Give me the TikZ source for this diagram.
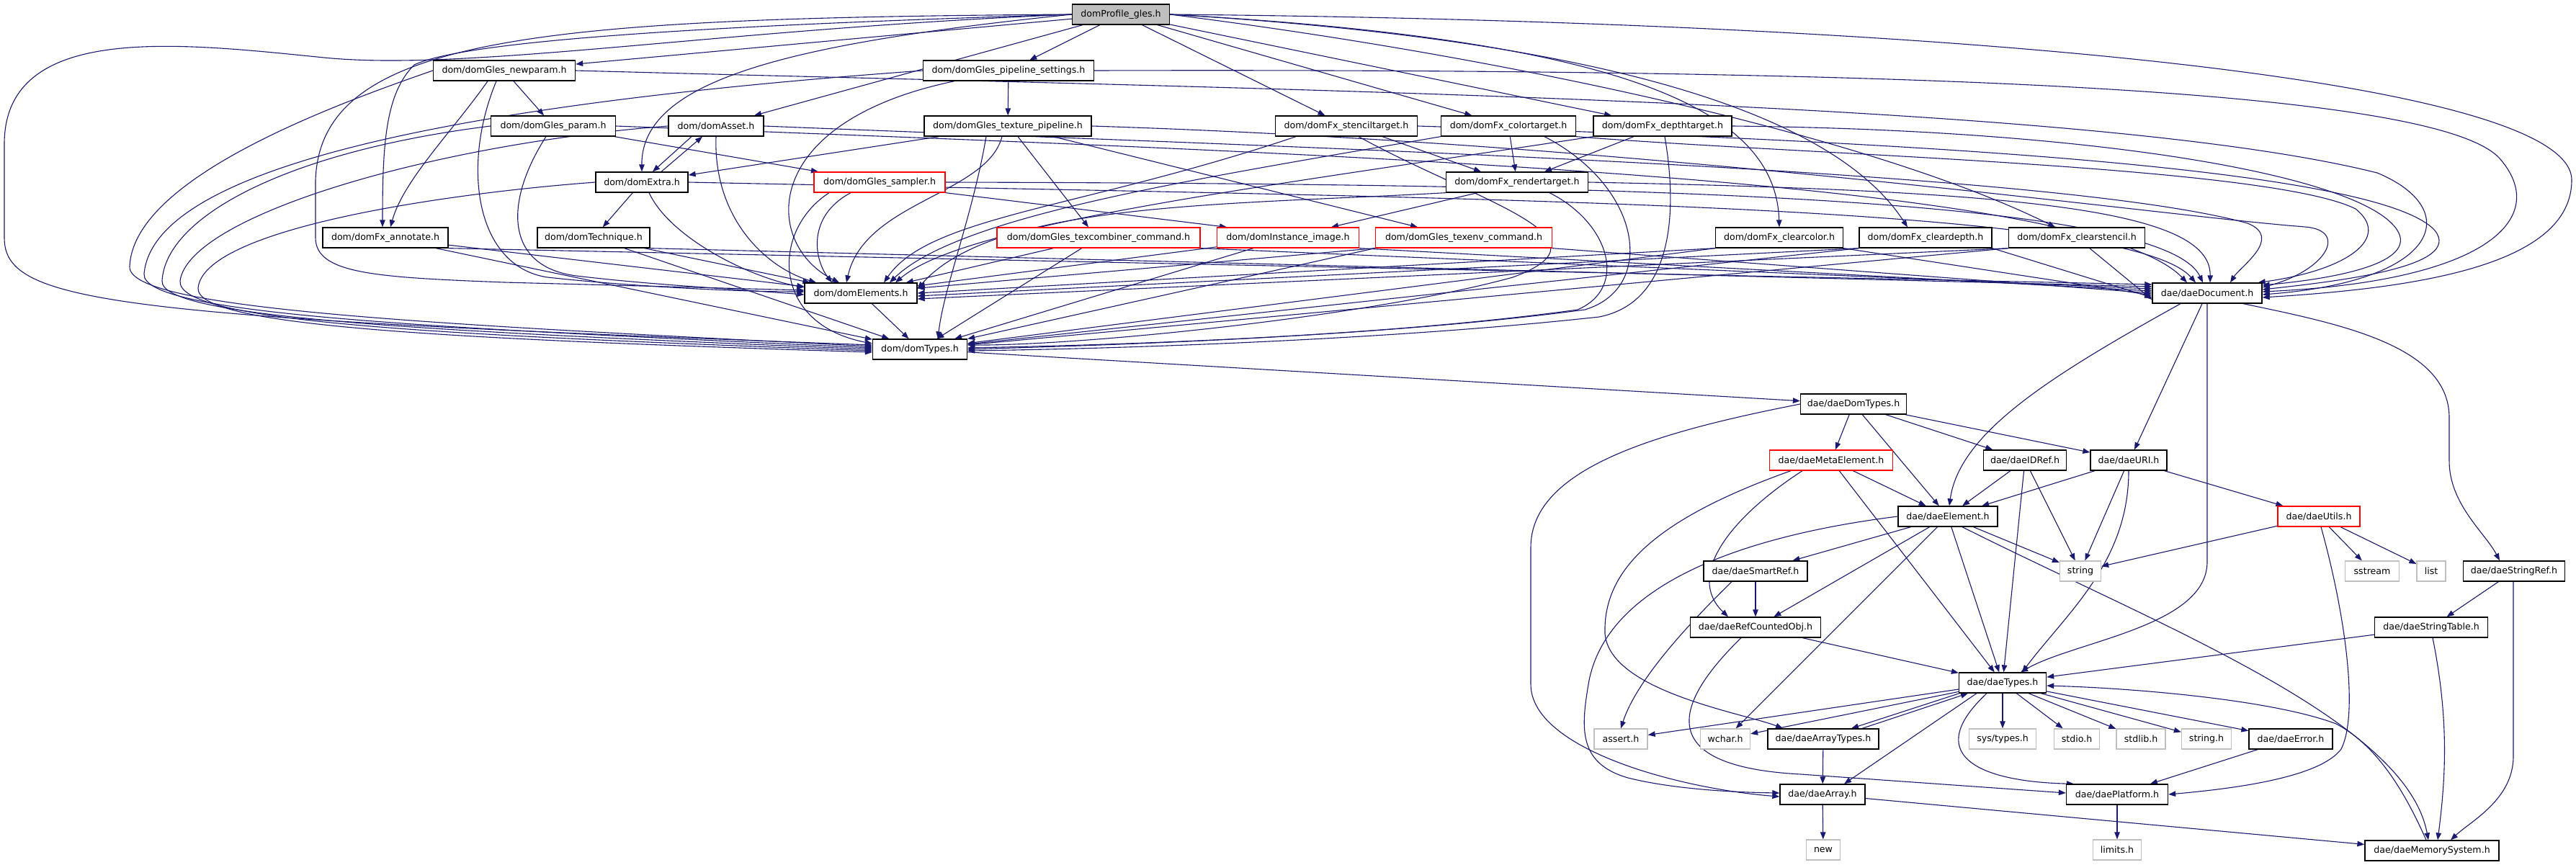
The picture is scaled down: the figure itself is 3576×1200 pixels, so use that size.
\documentclass[tikz,border=0pt]{standalone}
\usepackage{fontspec}
\newfontfamily\dvfont{DejaVu Sans}
\usetikzlibrary{arrows.meta,backgrounds}
\definecolor{edgec}{HTML}{191970}
\definecolor{sysgray}{HTML}{BFBFBF}
\tikzset{
  nd/.style={draw=black, line width=1.3pt, fill=white, minimum height=28pt, inner xsep=3pt, inner ysep=0pt, font=\dvfont\fontsize{12.6}{15}\selectfont},
  rednd/.style={nd, draw=red},
  sysnd/.style={nd, draw=sysgray},
  rootnd/.style={nd, fill=sysgray},
  ed/.style={draw=edgec, line width=1.1pt, -{Triangle[length=10pt,width=7.5pt]}},
}
\begin{document}
\begin{tikzpicture}[x=1pt,y=-1pt]
\useasboundingbox (0,0) rectangle (3576,1200);
% ---------------- nodes ----------------
\node[rootnd, minimum width=135pt] (R) at (1556,20) {domProfile\_gles.h};
\node[nd, minimum width=197pt] (NP) at (700,98) {dom/domGles\_newparam.h};
\node[nd, minimum width=237pt] (PS) at (1400,98) {dom/domGles\_pipeline\_settings.h};
\node[nd, minimum width=173pt] (GP) at (768,175) {dom/domGles\_param.h};
\node[nd, minimum width=132pt] (AS) at (994,175) {dom/domAsset.h};
\node[nd, minimum width=232pt] (TP) at (1399,175) {dom/domGles\_texture\_pipeline.h};
\node[nd, minimum width=197pt] (ST) at (1869,175) {dom/domFx\_stenciltarget.h};
\node[nd, minimum width=187pt] (CT) at (2094,175) {dom/domFx\_colortarget.h};
\node[nd, minimum width=192pt] (DT) at (2308,175) {dom/domFx\_depthtarget.h};
\node[nd, minimum width=128pt] (EX) at (891,253) {dom/domExtra.h};
\node[rednd, minimum width=182pt] (SA) at (1221,253) {dom/domGles\_sampler.h};
\node[nd, minimum width=197pt] (RT) at (2106,253) {dom/domFx\_rendertarget.h};
\node[nd, minimum width=174pt] (AN) at (535,330) {dom/domFx\_annotate.h};
\node[nd, minimum width=156pt] (TE) at (824,330) {dom/domTechnique.h};
\node[rednd, minimum width=282pt] (TC) at (1525,330) {dom/domGles\_texcombiner\_command.h};
\node[rednd, minimum width=197pt] (II) at (1788,330) {dom/domInstance\_image.h};
\node[rednd, minimum width=245pt] (TV) at (2032,330) {dom/domGles\_texenv\_command.h};
\node[nd, minimum width=177pt] (CC) at (2470,330) {dom/domFx\_clearcolor.h};
\node[nd, minimum width=184pt] (CD) at (2673,330) {dom/domFx\_cleardepth.h};
\node[nd, minimum width=189pt] (CS) at (2883,330) {dom/domFx\_clearstencil.h};
\node[nd, minimum width=156pt] (EL) at (1195,407) {dom/domElements.h};
\node[nd, minimum width=152pt] (DD) at (3064,407) {dae/daeDocument.h};
\node[nd, minimum width=131pt] (TY) at (1277,485) {dom/domTypes.h};
\node[nd, minimum width=147pt] (DOM) at (2573,561) {dae/daeDomTypes.h};
\node[rednd, minimum width=171pt] (ME) at (2542,639) {dae/daeMetaElement.h};
\node[nd, minimum width=115pt] (IDR) at (2811,639) {dae/daeIDRef.h};
\node[nd, minimum width=106pt] (URI) at (2955,639) {dae/daeURI.h};
\node[nd, minimum width=138pt] (E) at (2704,717) {dae/daeElement.h};
\node[rednd, minimum width=114pt] (U) at (3219,717) {dae/daeUtils.h};
\node[nd, minimum width=144pt] (SR) at (2437,793) {dae/daeSmartRef.h};
\node[sysnd, minimum width=57pt] (STR) at (2888,793) {string};
\node[sysnd, minimum width=75pt] (SS) at (3293,793) {sstream};
\node[sysnd, minimum width=40pt] (LI) at (3375,793) {list};
\node[nd, minimum width=141pt] (SREF) at (3490,793) {dae/daeStringRef.h};
\node[nd, minimum width=181pt] (RC) at (2437,871) {dae/daeRefCountedObj.h};
\node[nd, minimum width=157pt] (STT) at (3375,871) {dae/daeStringTable.h};
\node[nd, minimum width=121pt] (T) at (2780,948) {dae/daeTypes.h};
\node[sysnd, minimum width=74pt] (AT) at (2250,1026) {assert.h};
\node[sysnd, minimum width=69pt] (WC) at (2395,1026) {wchar.h};
\node[nd, minimum width=154pt] (ATY) at (2531,1026) {dae/daeArrayTypes.h};
\node[sysnd, minimum width=93pt] (SYS) at (2780,1026) {sys/types.h};
\node[sysnd, minimum width=63pt] (SIO) at (2883,1026) {stdio.h};
\node[sysnd, minimum width=68pt] (SLIB) at (2972,1026) {stdlib.h};
\node[sysnd, minimum width=69pt] (SH) at (3063,1026) {string.h};
\node[nd, minimum width=116pt] (ER) at (3180,1026) {dae/daeError.h};
\node[nd, minimum width=118pt] (A) at (2530,1103) {dae/daeArray.h};
\node[nd, minimum width=141pt] (P) at (2939,1103) {dae/daePlatform.h};
\node[sysnd, minimum width=47pt] (NEW) at (2531,1180) {new};
\node[sysnd, minimum width=67pt] (LIM) at (2939,1180) {limits.h};
\node[nd, minimum width=186pt] (MS) at (3376,1181) {dae/daeMemorySystem.h};
% ---------------- edges ----------------
\begin{scope}[on background layer]
\fill[white] (0,0) rectangle (3576,1200);
% root
\draw[ed] (R) -- (NP);
\draw[ed] (R) -- (PS);
\draw[ed] (R) -- (AS);
\draw[ed] (R) -- (ST);
\draw[ed] (R) -- (CT);
\draw[ed] (R) -- (DT);
\draw[ed] (R.east) .. controls (2250,55) and (2465,150) .. (CC.north);
\draw[ed] (R.east) .. controls (2300,60) and (2560,180) .. ([xshift=-25pt]CD.north);
\draw[ed] (R.east) .. controls (2100,80) and (2600,190) .. ([xshift=-30pt]CS.north);
\draw[ed] (R.west) .. controls (1100,60) and (890,110) .. (EX.north);
\draw[ed] (R.west) .. controls (1000,35) and (650,55) .. (575,90) .. controls (535,130) and (531,200) .. ([xshift=-4pt]AN.north);
\draw[ed] (R.west) .. controls (750,25) and (445,50) .. (438,250) -- (438,330) .. controls (438,380) and (520,385) .. (700,392) -- ([yshift=4pt]EL.west);
\draw[ed] (R.west) .. controls (1000,40) and (650,100) .. (450,80) .. controls (250,60) and (6,30) .. (6,200) -- (6,330) .. controls (6,420) and (150,440) .. ([yshift=6pt]TY.west);
\draw[ed] (R.east) .. controls (2700,30) and (3570,110) .. (3570,250) .. controls (3570,370) and (3350,400) .. ([yshift=-6pt]DD.east);
% newparam
\draw[ed] (NP) -- (GP);
\draw[ed] ([xshift=-23pt]NP.south) .. controls (630,180) and (560,250) .. ([xshift=7pt]AN.north);
\draw[ed] ([xshift=-11pt]NP.south) .. controls (640,230) and (660,370) .. (760,385) .. controls (850,395) and (1000,405) .. ([yshift=2pt]EL.west);
\draw[ed] (NP.west) .. controls (450,150) and (185,250) .. (180,370) .. controls (177,430) and (600,450) .. ([yshift=4pt]TY.west);
\draw[ed] (NP.east) .. controls (1800,125) and (2900,140) .. (3300,240) .. controls (3420,290) and (3390,390) .. ([yshift=-2pt]DD.east);
% pipeline settings
\draw[ed] (PS) -- (TP);
\draw[ed] ([xshift=-75pt]PS.south) .. controls (1050,170) and (1060,340) .. ([xshift=-30pt]EL.north);
\draw[ed] (PS.west) .. controls (700,140) and (215,220) .. (200,380) .. controls (195,437) and (600,455) .. ([yshift=2pt]TY.west);
\draw[ed] (PS.east) .. controls (2600,95) and (3380,120) .. (3470,220) .. controls (3540,300) and (3460,390) .. ([yshift=2pt]DD.east);
% gles param
\draw[ed] (GP) -- (SA);
\draw[ed] ([xshift=-10pt]GP.south) .. controls (700,280) and (700,370) .. (800,383) .. controls (900,395) and (1000,400) .. ([yshift=-2pt]EL.west);
\draw[ed] (GP.west) .. controls (400,210) and (230,300) .. (225,390) .. controls (222,442) and (600,460) .. (TY.west);
\draw[ed] (GP.east) .. controls (1900,215) and (2900,250) .. ([xshift=-28pt]DD.north);
% asset
\draw[ed] ([xshift=-34pt]AS.south) -- ([xshift=15pt]EX.north);
\draw[ed] ([xshift=27pt]EX.north) -- ([xshift=-19pt]AS.south);
\draw[ed] (AS.south) .. controls (990,300) and (1060,370) .. ([xshift=-62pt]EL.north);
\draw[ed] (AS.west) .. controls (600,200) and (262,300) .. (250,390) .. controls (245,447) and (600,465) .. ([yshift=-2pt]TY.west);
\draw[ed] (AS.east) .. controls (1800,205) and (2850,235) .. (3120,310) .. controls (3170,330) and (3110,370) .. ([xshift=32pt]DD.north);
% texture pipeline
\draw[ed] (TP) -- (EX);
\draw[ed] ([xshift=-8pt]TP.south) .. controls (1370,270) and (1200,280) .. ([xshift=-20pt]EL.north);
\draw[ed] ([xshift=14pt]TP.south) -- ([xshift=-14pt]TC.north);
\draw[ed] ([xshift=63pt]TP.south) -- ([xshift=-64pt]TV.north);
\draw[ed] ([xshift=-30pt]TP.south) .. controls (1350,300) and (1310,400) .. ([xshift=25pt]TY.north);
\draw[ed] (TP.east) .. controls (2300,200) and (3000,300) .. (3200,315) .. controls (3260,320) and (3230,375) .. ([yshift=8pt]DD.east);
% stenciltarget
\draw[ed] ([xshift=50pt]ST.south) -- ([xshift=-50pt]RT.north);
\draw[ed] ([xshift=-70pt]ST.south) .. controls (1500,290) and (1290,300) .. ([xshift=32pt]EL.north);
\draw[ed] ([xshift=17pt]ST.south) .. controls (2050,280) and (2250,330) .. (2100,385) .. controls (1900,440) and (1500,480) .. ([yshift=6pt]TY.east);
\draw[ed] (ST.east) .. controls (2600,195) and (3300,230) .. (3380,320) .. controls (3420,370) and (3250,390) .. ([yshift=5pt]DD.east);
% colortarget
\draw[ed] (CT) -- (RT);
\draw[ed] (CT.south west) .. controls (1650,250) and (1330,300) .. ([xshift=40pt]EL.north);
\draw[ed] ([xshift=50pt]CT.south) .. controls (2280,260) and (2300,400) .. (2200,430) .. controls (1900,470) and (1500,480) .. ([yshift=2pt]TY.east);
\draw[ed] (CT.south east) .. controls (2500,215) and (3150,230) .. (3270,290) .. controls (3320,330) and (3260,375) .. ([xshift=-6pt]DD.north east);
% depthtarget
\draw[ed] ([xshift=-40pt]DT.south) -- ([xshift=38pt]RT.north);
\draw[ed] (DT.south west) .. controls (1750,260) and (1340,310) .. ([xshift=48pt]EL.north);
\draw[ed] ([xshift=3pt]DT.south) .. controls (2330,300) and (2320,420) .. (2220,440) .. controls (1900,475) and (1500,485) .. ([yshift=-2pt]TY.east);
\draw[ed] (DT.east) .. controls (2900,180) and (3250,240) .. (3320,310) .. controls (3370,360) and (3260,385) .. ([yshift=11pt]DD.east);
% extra
\draw[ed] (EX) -- (TE);
\draw[ed] ([xshift=10pt]EX.south) .. controls (930,330) and (1040,385) .. ([yshift=8pt]EL.west);
\draw[ed] (EX.west) .. controls (600,270) and (282,320) .. (275,400) .. controls (272,452) and (600,470) .. ([yshift=-4pt]TY.west);
\draw[ed] (EX.east) .. controls (2000,275) and (2950,280) .. ([xshift=-16pt]DD.north);
% sampler
\draw[ed] (SA.south east) -- ([xshift=-85pt]II.north);
\draw[ed] ([xshift=-40pt]SA.south) .. controls (1120,300) and (1130,360) .. ([xshift=-40pt]EL.north);
\draw[ed] ([xshift=-70pt]SA.south) .. controls (1070,320) and (1070,450) .. ([yshift=8pt]TY.west);
\draw[ed] (SA.east) .. controls (2200,255) and (3000,270) .. ([xshift=-6pt]DD.north);
% rendertarget
\draw[ed] ([xshift=-55pt]RT.south) -- ([xshift=60pt]II.north);
\draw[ed] (RT.south west) .. controls (1700,285) and (1380,280) .. ([yshift=6pt]EL.east);
\draw[ed] ([xshift=45pt]RT.south) .. controls (2235,310) and (2260,400) .. (2190,430) .. controls (1900,470) and (1500,480) .. (TY.east);
\draw[ed] (RT.east) .. controls (2800,265) and (3070,290) .. ([xshift=4pt]DD.north);
% annotate, technique
\draw[ed] (AN) -- (EL);
\draw[ed] (AN) -- (TY);
\draw[ed] (AN.south east) -- ([yshift=12pt]DD.west);
\draw[ed] (TE) -- (EL);
\draw[ed] (TE) -- (TY);
\draw[ed] (TE.south east) -- ([yshift=9pt]DD.west);
% row 330 red nodes
\draw[ed] (TC) -- (EL);
\draw[ed] (TC) -- (TY);
\draw[ed] (TC.south east) -- ([yshift=6pt]DD.west);
\draw[ed] (II) -- (EL);
\draw[ed] (II) -- (TY);
\draw[ed] (II.south east) -- ([yshift=3pt]DD.west);
\draw[ed] (TV.south west) -- (EL);
\draw[ed] (TV.south west) -- (TY);
\draw[ed] (TV.south east) -- (DD.west);
% clear*
\draw[ed] (CC.south west) -- (EL.east);
\draw[ed] (CC.south west) -- (TY);
\draw[ed] (CC.south east) -- ([yshift=-3pt]DD.west);
\draw[ed] (CD.south west) -- ([yshift=-4pt]EL.east);
\draw[ed] (CD.south west) -- (TY);
\draw[ed] (CD.south east) -- ([yshift=-6pt]DD.west);
\draw[ed] (CS.south west) -- ([yshift=-8pt]EL.east);
\draw[ed] (CS.south west) -- (TY);
\draw[ed] (CS) -- ([yshift=-9pt]DD.west);
% elements
\draw[ed] (EL) -- (TY);
% lower part
\draw[ed] (TY) -- (DOM);
\draw[ed] (DOM) -- (ME);
\draw[ed] (DOM) -- (E);
\draw[ed] (DOM) -- (IDR);
\draw[ed] (DOM) -- (URI);
\draw[ed] (DOM.west) .. controls (2300,600) and (2125,650) .. (2125,760) -- (2125,950) .. controls (2125,1040) and (2330,1095) .. ([yshift=-3pt]A.west);
\draw[ed] (ME) -- (E);
\draw[ed] ([xshift=-40pt]ME.south) .. controls (2400,720) and (2340,800) .. ([xshift=-38pt]RC.north);
\draw[ed] ([xshift=-56pt]ME.south) .. controls (2300,720) and (2225,790) .. (2228,880) .. controls (2235,960) and (2420,990) .. ([xshift=-56pt]ATY.north);
\draw[ed] (ME) -- (T);
\draw[ed] (IDR) -- (E);
\draw[ed] (IDR) -- (STR);
\draw[ed] (IDR) -- (T);
\draw[ed] (URI) -- (E);
\draw[ed] (URI) -- (STR);
\draw[ed] (URI.south) .. controls (2955,780) and (2870,850) .. ([xshift=27pt]T.north);
\draw[ed] (URI) -- (U);
\draw[ed] ([xshift=-37pt]DD.south) .. controls (2850,520) and (2720,600) .. ([xshift=2pt]E.north);
\draw[ed] ([xshift=-7pt]DD.south) -- ([xshift=8pt]URI.north);
\draw[ed] (DD.south) -- (3064,780) .. controls (3064,870) and (2880,890) .. ([xshift=25pt]T.north);
\draw[ed] ([xshift=50pt]DD.south) .. controls (3250,450) and (3400,480) .. (3400,580) -- (3400,640) .. controls (3400,700) and (3450,740) .. ([xshift=-20pt]SREF.north);
\draw[ed] (E) -- (STR);
\draw[ed] (E) -- (SR);
\draw[ed] (E) -- (RC);
\draw[ed] (E) -- (WC);
\draw[ed] (E) -- (T);
\draw[ed] ([xshift=20pt]E.south) .. controls (3000,870) and (3340,1000) .. ([xshift=-5pt]MS.north);
\draw[ed] (E.west) .. controls (2450,740) and (2230,800) .. (2205,950) .. controls (2195,1010) and (2190,1060) .. (2260,1080) .. controls (2320,1095) and (2400,1100) .. ([yshift=2pt]A.west);
\draw[ed] (U) -- (STR);
\draw[ed] (U) -- (SS);
\draw[ed] (U) -- (LI);
\draw[ed] ([xshift=3pt]U.south) .. controls (3255,850) and (3275,990) .. (3250,1040) .. controls (3220,1080) and (3100,1095) .. (P.east);
\draw[ed] (SR) -- (RC);
\draw[ed] ([xshift=-33pt]SR.south) .. controls (2330,880) and (2270,950) .. (AT.north);
\draw[ed] (RC) -- (T);
\draw[ed] ([xshift=-20pt]RC.south) .. controls (2310,990) and (2310,1065) .. (2500,1075) -- ([yshift=2pt]P.west);
\draw[ed] (SREF) -- (STT);
\draw[ed] ([xshift=-1pt]SREF.south) -- (3489,1050) .. controls (3489,1110) and (3430,1140) .. ([xshift=26pt]MS.north);
\draw[ed] (STT) -- (T);
\draw[ed] ([xshift=2pt]STT.south) .. controls (3400,1000) and (3395,1080) .. ([xshift=8pt]MS.north);
\draw[ed] (T) -- (AT);
\draw[ed] (T) -- (WC);
\draw[ed] ([xshift=-60pt]T.south) -- ([xshift=39pt]ATY.north);
\draw[ed] ([xshift=54pt]ATY.north) -- ([xshift=-48pt]T.south);
\draw[ed] ([xshift=-36pt]T.south) -- ([xshift=30pt]A.north);
\draw[ed] (T) -- (SYS);
\draw[ed] (T) -- (SIO);
\draw[ed] (T) -- (SLIB);
\draw[ed] (T) -- (SH);
\draw[ed] (T) -- (ER);
\draw[ed] ([xshift=-22pt]T.south) .. controls (2670,1045) and (2740,1085) .. ([xshift=-60pt]P.north);
\draw[ed] (ATY) -- (A);
\draw[ed] (ER) -- (P);
\draw[ed] (P) -- (LIM);
\draw[ed] (A) -- (NEW);
\draw[ed] (A) -- (MS);
\draw[ed] ([xshift=-8pt]MS.north) .. controls (3330,1080) and (3290,1030) .. (3243,1005) .. controls (3150,970) and (2950,955) .. ([yshift=-4pt]T.east);
\end{scope}
\end{tikzpicture}
\end{document}
